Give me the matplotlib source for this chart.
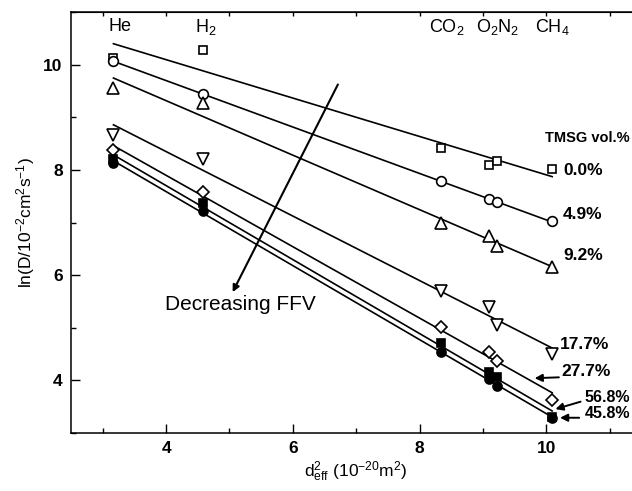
import numpy as np
import matplotlib
matplotlib.use("Agg")
import matplotlib.pyplot as plt
from matplotlib.ticker import MultipleLocator, NullFormatter

plt.rcParams['font.family'] = ['Liberation Sans', 'DejaVu Sans']
plt.rcParams['mathtext.default'] = 'regular'

# effective diameter squared of each gas (10^-20 m^2)
gases = ['He', 'H$_2$', 'CO$_2$', 'O$_2$N$_2$', 'CH$_4$']
gas_label_x = [3.27, 4.63, 8.43, 9.23, 10.09]
d2_eff = [3.17, 4.58, 8.33, 9.10, 9.22, 10.09]

# ln D for each TMSG loading, gas order He, H2, CO2, O2, N2, CH4
tmsg_labels = ['0.0%', '4.9%', '9.2%', '17.7%', '27.7%', '45.8%', '56.8%']
lnD_0_0 = [10.13, 10.28, 8.42, 8.09, 8.16, 8.01]
lnD_4_9 = [10.06, 9.45, 7.78, 7.44, 7.39, 7.02]
lnD_9_2 = [9.56, 9.27, 7.00, 6.74, 6.55, 6.16]
lnD_17_7 = [8.67, 8.21, 5.70, 5.39, 5.06, 4.50]
lnD_27_7 = [8.37, 7.58, 5.02, 4.53, 4.36, 3.62]
lnD_45_8 = [8.14, 7.22, 4.53, 4.03, 3.90, 3.29]
lnD_56_8 = [8.20, 7.37, 4.72, 4.15, 4.06, 3.30]

series = [lnD_0_0, lnD_4_9, lnD_9_2, lnD_17_7, lnD_27_7, lnD_45_8, lnD_56_8]
styles = [
    dict(marker='s', ms=6, mfc='white'),
    dict(marker='o', ms=7, mfc='white'),
    dict(marker='^', ms=8.5, mfc='white'),
    dict(marker='v', ms=8.5, mfc='white'),
    dict(marker='D', ms=6, mfc='white'),
    dict(marker='o', ms=6.5, mfc='black'),
    dict(marker='s', ms=5.5, mfc='black'),
]

fig = plt.figure(figsize=(6.32, 4.91), dpi=100)
ax = fig.add_axes([0.1123, 0.1181, 0.9028, 0.8574])

x = np.array(d2_eff)
for y, st in zip(series, styles):
    y = np.array(y)
    k, b = np.polyfit(x, y, 1)
    xf = np.array([x.min(), x.max()])
    ax.plot(xf, k * xf + b, color='black', lw=1.2, zorder=2)
    ax.plot(x, y, ls='none', marker=st['marker'], ms=st['ms'],
            mfc=st['mfc'], mec='black', mew=1.2, zorder=3)

ax.set_xlim(2.5, 11.5)
ax.set_ylim(3, 11)

ax.xaxis.set_major_locator(MultipleLocator(2))
ax.xaxis.set_minor_locator(MultipleLocator(1))
ax.yaxis.set_major_locator(MultipleLocator(2))
ax.yaxis.set_minor_locator(MultipleLocator(1))
ax.tick_params(which='major', direction='in', length=6.5, width=1.0,
               labelsize=12.5, pad=6)
ax.tick_params(which='minor', direction='in', length=3.5, width=1.0)
for lab in ax.get_xticklabels() + ax.get_yticklabels():
    lab.set_fontweight('bold')
for sp in ax.spines.values():
    sp.set_linewidth(1.1)

# short ticks on the top edge at every unit
top = ax.secondary_xaxis('top')
top.set_xticks(np.arange(3, 12, 1))
top.xaxis.set_major_formatter(NullFormatter())
top.tick_params(direction='in', length=3, width=1.0)
right = ax.secondary_yaxis('right')
right.set_yticks([4, 6, 8, 10])
right.yaxis.set_major_formatter(NullFormatter())
right.tick_params(direction='in', length=6.5, width=1.0)

ax.set_xlabel(r'd$^2_{eff}$ (10$^{-20}$m$^2$)', fontsize=12.5, labelpad=2)
ax.set_ylabel(r'ln(D/10$^{-2}$cm$^2$s$^{-1}$)', fontsize=12.5)
ax.yaxis.set_label_coords(-0.06, 0.5)

for name, gx in zip(gases, gas_label_x):
    ax.text(gx, 10.72, name, ha='center', va='center', fontsize=13)

# series labels on the right
ax.text(9.98, 8.61, 'TMSG vol.%', fontsize=10.5, fontweight='bold', va='center')
label_pos = {'0.0%': (10.26, 7.99), '4.9%': (10.26, 7.16), '9.2%': (10.26, 6.37),
             '17.7%': (10.21, 4.68), '27.7%': (10.24, 4.17),
             '56.8%': (10.6, 3.68), '45.8%': (10.6, 3.38)}
for lab in tmsg_labels:
    lx, ly = label_pos[lab]
    fs = 11.5 if lab in ('56.8%', '45.8%') else 12.5
    ax.text(lx, ly, lab, fontsize=fs, fontweight='bold', va='center')

arrow = dict(arrowstyle='-|>', color='black', lw=1.4, mutation_scale=11)
ax.annotate('', xy=(9.77, 4.04), xytext=(10.24, 4.06), arrowprops=arrow)
ax.annotate('', xy=(10.1, 3.44), xytext=(10.58, 3.61), arrowprops=arrow)
ax.annotate('', xy=(10.17, 3.29), xytext=(10.56, 3.29), arrowprops=arrow)

# free volume trend arrow
ax.annotate('', xy=(5.03, 5.63), xytext=(6.73, 9.67),
            arrowprops=dict(arrowstyle='-|>', color='black', lw=1.5,
                            mutation_scale=10))
ax.text(5.17, 5.44, 'Decreasing FFV', fontsize=15, ha='center', va='center')

fig.savefig('out.png', dpi=100)
